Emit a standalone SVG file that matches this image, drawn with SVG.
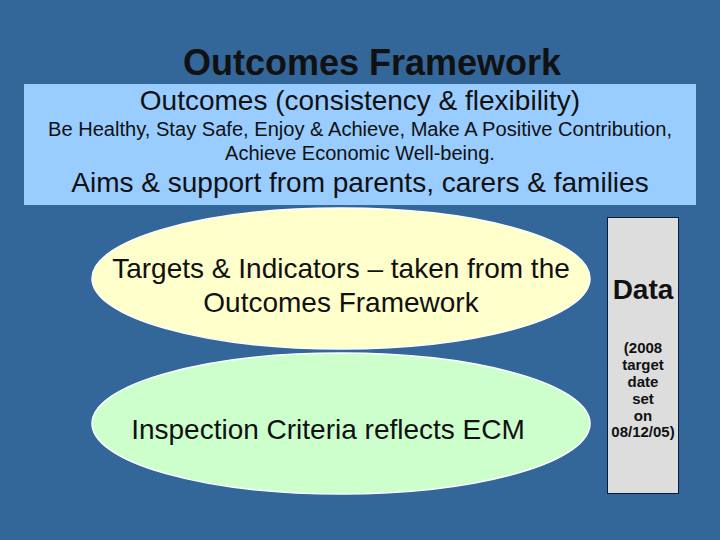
<svg xmlns="http://www.w3.org/2000/svg" width="720" height="540" viewBox="0 0 720 540">
<style>
text{font-family:"Liberation Sans",Arial,sans-serif;text-anchor:middle;fill:#111}
.big{font-size:28px}
.mid{font-size:20px}
.sm{font-size:15px;font-weight:bold}
.ell{stroke:#ffffff;stroke-width:1.5}
</style>
<rect width="720" height="540" fill="#336699"/>
<g id="title"><text x="372" y="75" style="font-size:36px;font-weight:bold">Outcomes Framework</text></g>
<g id="outcomes">
<rect x="24" y="84" width="672" height="121" fill="#99ccff"/>
<text class="big" x="360" y="110">Outcomes (consistency &amp; flexibility)</text>
<text class="mid" x="360" y="136" textLength="624" lengthAdjust="spacingAndGlyphs">Be Healthy, Stay Safe, Enjoy &amp; Achieve, Make A Positive Contribution,</text>
<text class="mid" x="360" y="160">Achieve Economic Well-being.</text>
<text class="big" x="360" y="192">Aims &amp; support from parents, carers &amp; families</text>
</g>
<g id="targets">
<ellipse class="ell" cx="341" cy="278.5" rx="249" ry="70.5" fill="#ffffcc"/>
<text class="big" x="341" y="278">Targets &amp; Indicators – taken from the</text>
<text class="big" x="341" y="312">Outcomes Framework</text>
</g>
<g id="inspection">
<ellipse class="ell" cx="341" cy="423.5" rx="249" ry="70.5" fill="#ccffcc"/>
<text class="big" x="328" y="439">Inspection Criteria reflects ECM</text>
</g>
<g id="data">
<rect x="607.5" y="217.5" width="71" height="276" fill="#dddddd" stroke="#0a1a3a" stroke-width="1"/>
<text x="643" y="299" style="font-size:28px;font-weight:bold">Data</text>
<text class="sm" x="643" y="353">(2008</text>
<text class="sm" x="643" y="370">target</text>
<text class="sm" x="643" y="387">date</text>
<text class="sm" x="643" y="404">set</text>
<text class="sm" x="643" y="421">on</text>
<text class="sm" x="643" y="437">08/12/05)</text>
</g>
<g id="connectors"/>
</svg>
